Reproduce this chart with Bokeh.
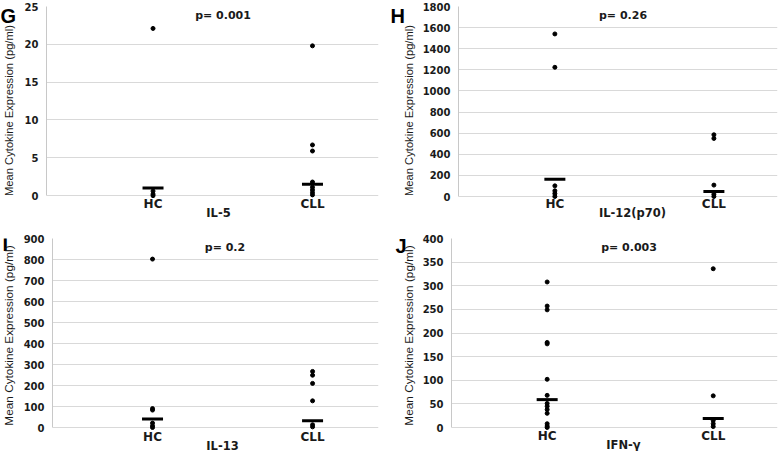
import math
from bokeh.plotting import figure
from bokeh.layouts import column, row
from bokeh.models import FixedTicker, Label, Range1d
from bokeh.embed import file_html
from bokeh.resources import INLINE

# ---------------- data ----------------
categories = ["HC", "CLL"]
y_title = "Mean Cytokine Expression (pg/ml)"

il5_hc = [22.1, 0.6, 0.2, 0.0]
il5_cll = [19.8, 6.7, 5.9, 1.8, 1.1, 0.75, 0.4, 0.1]
il5_means = [1.0, 1.5]
il5_ticks = [0, 5, 10, 15, 20, 25]
il5_p = "p= 0.001"

il12_hc = [1540, 1224, 101, 54, 28, 0]
il12_cll = [585, 550, 108, 22, 0]
il12_means = [164, 47]
il12_ticks = [0, 200, 400, 600, 800, 1000, 1200, 1400, 1600, 1800]
il12_p = "p= 0.26"

il13_hc = [802, 90, 83, 21, 8, 0]
il13_cll = [267, 249, 210, 127, 13, 3]
il13_means = [40, 32]
il13_ticks = [0, 100, 200, 300, 400, 500, 600, 700, 800, 900]
il13_p = "p= 0.2"

ifng_hc = [308, 257, 249, 180, 177, 102, 68, 51, 45, 38, 30, 8, 3, 0]
ifng_cll = [336, 67, 15, 8, 2]
ifng_means = [59, 19]
ifng_ticks = [0, 50, 100, 150, 200, 250, 300, 350, 400]
ifng_p = "p= 0.003"

# ---------------- styling ----------------
BOLD = "DejaVu Sans"
TXT = "#1a1a1a"
GRID = "#d9d9d9"


def strip(letter, width, height, let_x, let_y, lab_x, lab_y, lab_size):
    s = figure(width=width, height=height, output_backend="svg",
               toolbar_location=None, x_axis_type=None, y_axis_type=None,
               x_range=Range1d(0, 1), y_range=Range1d(0, 1),
               min_border=0)
    s.outline_line_color = None
    s.xgrid.grid_line_color = None
    s.ygrid.grid_line_color = None
    s.add_layout(Label(x=let_x, y=let_y, x_units="screen", y_units="screen",
                       text=letter, text_align="left",
                       text_baseline="alphabetic",
                       text_font="Liberation Sans", text_font_style="bold",
                       text_font_size="20px", text_color="black"))
    s.add_layout(Label(x=lab_x, y=lab_y, x_units="screen", y_units="screen",
                       text=y_title, angle=math.pi / 2, text_align="center",
                       text_baseline="middle", text_font="Liberation Sans",
                       text_font_size=lab_size, text_color=TXT))
    return s


def panel(title, hc, cll, means, ticks, ptxt, width, height, bl, br,
          top_y, zero_y, xr, cat_y, title_x, title_y, p_x, p_y):
    ymax = ticks[-1]
    ystart = -ymax * (height - zero_y) / (zero_y - top_y)
    p = figure(width=width, height=height, output_backend="svg",
               toolbar_location=None, x_axis_location=None,
               x_range=Range1d(*xr), y_range=Range1d(ystart, ymax),
               min_border_left=bl, min_border_right=br,
               min_border_top=top_y, min_border_bottom=0)
    p.outline_line_color = None
    p.background_fill_color = "white"
    p.border_fill_color = "white"
    p.xgrid.grid_line_color = None
    p.ygrid.grid_line_color = GRID
    p.ygrid.grid_line_width = 1

    ya = p.yaxis[0]
    ya.ticker = FixedTicker(ticks=ticks)
    ya.bounds = (0, ymax)
    ya.axis_line_color = "#c8c8c8"
    ya.major_tick_line_color = None
    ya.minor_tick_line_color = None
    ya.major_tick_out = 0
    ya.major_tick_in = 0
    ya.minor_tick_out = 0
    ya.major_label_standoff = 8
    ya.major_label_text_font = BOLD
    ya.major_label_text_font_style = "bold"
    ya.major_label_text_font_size = "10px"
    ya.major_label_text_color = TXT

    xs = [categories.index("HC") + 1] * len(hc) + \
         [categories.index("CLL") + 1] * len(cll)
    ys = list(hc) + list(cll)
    p.scatter(xs, ys, size=4, marker="circle", fill_color="black",
              line_color="black")
    p.scatter([1, 2], means, marker="dash", size=21, line_width=3,
              line_color="black")

    # category labels (x axis), placed at the category positions
    for i, c in enumerate(categories):
        p.add_layout(Label(x=i + 1, y=cat_y, x_units="data", y_units="screen",
                           text=c, text_align="center", text_baseline="middle",
                           text_font=BOLD, text_font_style="bold",
                           text_font_size="12px", text_color=TXT))
    p.add_layout(Label(x=title_x, y=title_y, x_units="screen", y_units="screen",
                       text=title, text_align="center", text_baseline="middle",
                       text_font=BOLD, text_font_style="bold",
                       text_font_size="11.5px", text_color=TXT))
    p.add_layout(Label(x=p_x, y=p_y, x_units="screen", y_units="screen",
                       text=ptxt, text_align="center", text_baseline="middle",
                       text_font=BOLD, text_font_style="bold",
                       text_font_size="11px", text_color=TXT))
    return p


sG = strip("G", 20, 225, 0, 210, 8.5, 115, "11.2px")
pG = panel("IL-5", il5_hc, il5_cll, il5_means, il5_ticks, il5_p,
           370, 225, 26, 12, 5, 195, (0.332, 2.414),
           21.5, 172, 13, 176.5, 210)
sH = strip("H", 26, 225, 0, 210, 18, 115, "11.2px")
pH = panel("IL-12(p70)", il12_hc, il12_cll, il12_means, il12_ticks, il12_p,
           366, 225, 42, 5, 6, 196, (0.394, 2.40),
           21.5, 174, 13, 164.5, 210)
sI = strip("I", 20, 226, 2, 208, 8, 116, "11.8px")
pI = panel("IL-13", il13_hc, il13_cll, il13_means, il13_ticks, il13_p,
           370, 226, 30, 12, 13, 202, (0.375, 2.412),
           15, 170, 6, 172.5, 204)
sJ = strip("J", 28, 226, 5, 206, 18, 116, "11.8px")
pJ = panel("IFN-γ", ifng_hc, ifng_cll, ifng_means, ifng_ticks, ifng_p,
           364, 226, 33, 5, 13, 202, (0.424, 2.387),
           16, 172, 7, 177.5, 204)

layout = column(row(sG, pG, sH, pH), row(sI, pI, sJ, pJ))
open("out.html", "w").write(file_html(layout, INLINE))
